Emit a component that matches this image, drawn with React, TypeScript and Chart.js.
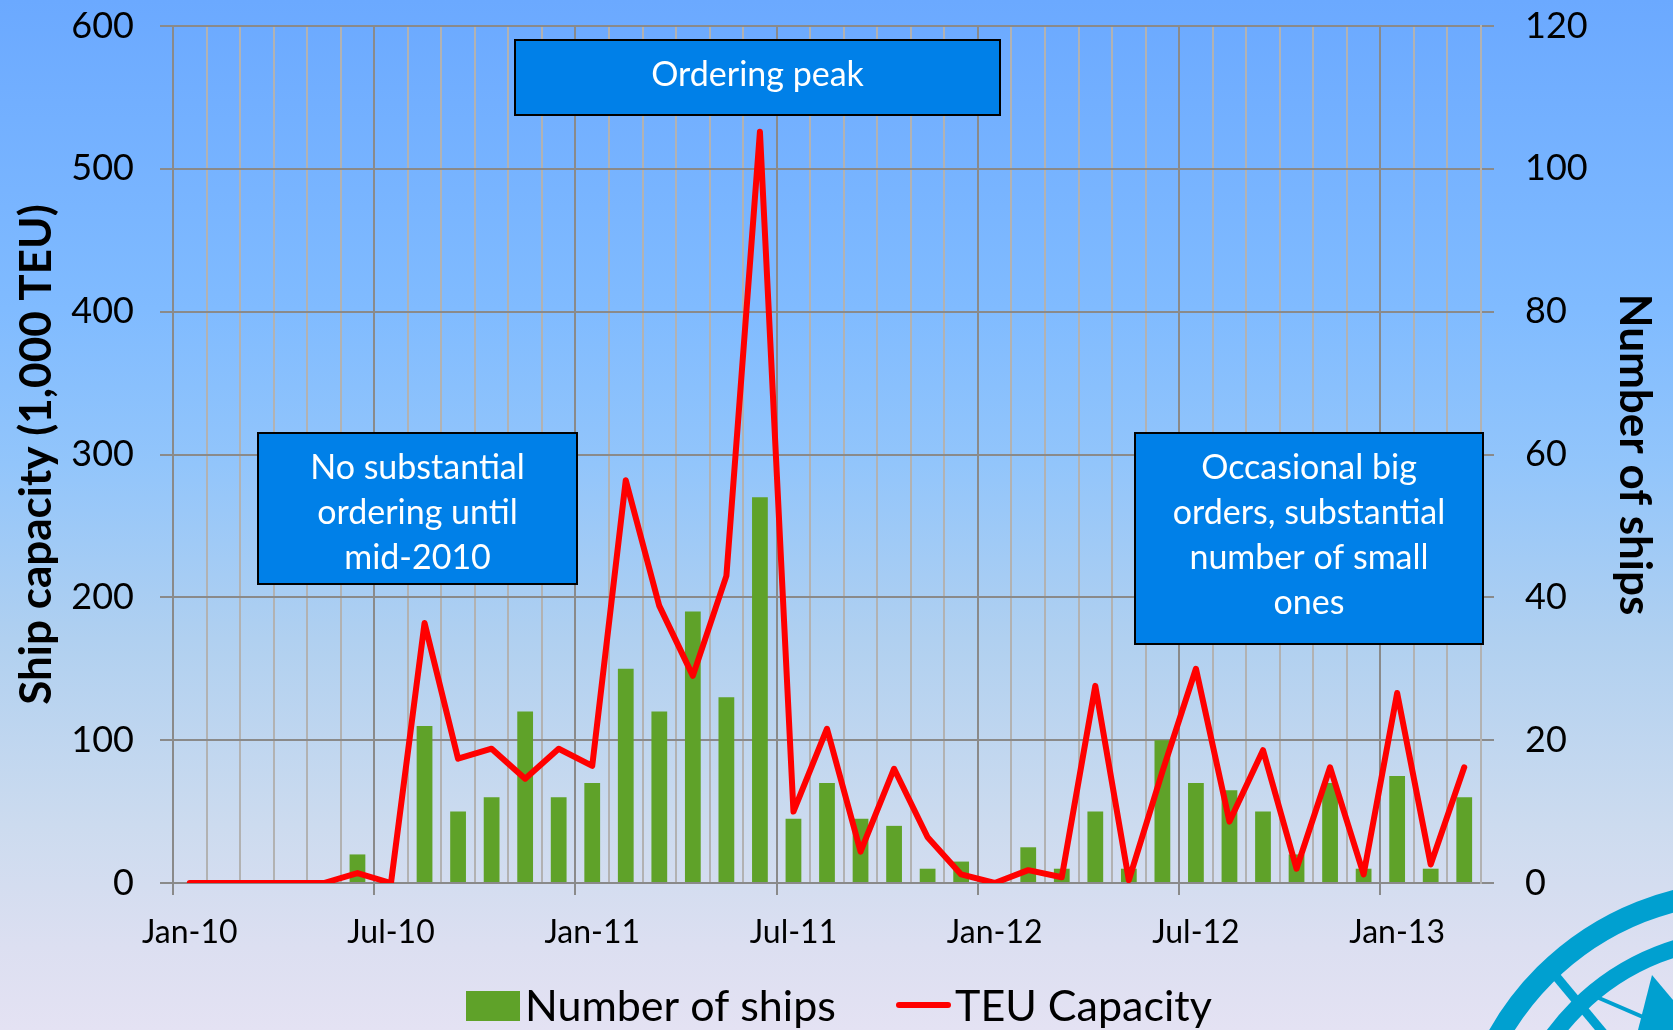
import React, { useEffect, useRef } from 'react';
import { Chart, registerables } from 'chart.js';

Chart.register(...registerables);

// ---------- data ----------
const months = [
  'Jan-10', 'Feb-10', 'Mar-10', 'Apr-10', 'May-10', 'Jun-10', 'Jul-10', 'Aug-10', 'Sep-10', 'Oct-10', 'Nov-10', 'Dec-10',
  'Jan-11', 'Feb-11', 'Mar-11', 'Apr-11', 'May-11', 'Jun-11', 'Jul-11', 'Aug-11', 'Sep-11', 'Oct-11', 'Nov-11', 'Dec-11',
  'Jan-12', 'Feb-12', 'Mar-12', 'Apr-12', 'May-12', 'Jun-12', 'Jul-12', 'Aug-12', 'Sep-12', 'Oct-12', 'Nov-12', 'Dec-12',
  'Jan-13', 'Feb-13', 'Mar-13',
];
const tickLabels = ['Jan-10', 'Jul-10', 'Jan-11', 'Jul-11', 'Jan-12', 'Jul-12', 'Jan-13'];

// Number of ships (right axis)
const shipCounts = [
  0, 0, 0, 0, 0, 4, 0, 22, 10, 12, 24, 12,
  14, 30, 24, 38, 26, 54, 9, 14, 9, 8, 2, 3,
  0, 5, 2, 10, 2, 20, 14, 13, 10, 4, 14, 2,
  15, 2, 12,
];
// TEU capacity, 1,000 TEU (left axis)
const teuCapacity = [
  0, 0, 0, 0, 0, 7, 0, 182, 87, 94, 73, 94,
  82, 282, 194, 145, 215, 526, 50, 108, 22, 80, 32, 6,
  0, 9, 4, 138, 2, 78, 150, 43, 93, 10, 81, 6,
  133, 13, 81,
];

const leftAxisTitle = 'Ship capacity (1,000 TEU)';
const rightAxisTitle = 'Number of ships';
const seriesNames = ['Number of ships', 'TEU Capacity'];

const noteTexts = [
  ['Ordering peak'],
  ['No substantial', 'ordering until', 'mid-2010'],
  ['Occasional big', 'orders, substantial', 'number of small', 'ones'],
];

// ---------- styles ----------
const W = 1673;
const H = 1030;
const FONT = "Lato, 'Open Sans', sans-serif";
const GREEN = '#5fa229';
const RED = '#ff0000';
const GRID_MAJOR = '#8a8a8a';
const GRID_MINOR = '#b2b2b2';
const BOX_FILL = '#0080e8';

const noteBoxes = [
  { x0: 515, y0: 40, x1: 1000, y1: 115 },
  { x0: 258, y0: 433, x1: 577, y1: 584 },
  { x0: 1135, y0: 433, x1: 1483, y1: 644 },
];

const notesPlugin = {
  id: 'notes',
  afterDatasetsDraw(chart: any) {
    const ctx = chart.ctx as CanvasRenderingContext2D;
    ctx.save();
    noteBoxes.forEach((b, i) => {
      ctx.fillStyle = BOX_FILL;
      ctx.fillRect(b.x0, b.y0, b.x1 - b.x0, b.y1 - b.y0);
      ctx.strokeStyle = '#000000';
      ctx.lineWidth = 2;
      ctx.strokeRect(b.x0, b.y0, b.x1 - b.x0, b.y1 - b.y0);
      const lines = noteTexts[i];
      const lh = 45;
      const cx = (b.x0 + b.x1) / 2;
      ctx.fillStyle = '#ffffff';
      ctx.font = `34px ${FONT}`;
      ctx.textAlign = 'center';
      ctx.textBaseline = 'middle';
      lines.forEach((t, k) => {
        ctx.fillText(t, cx, b.y0 + 35 + k * lh);
      });
    });
    ctx.restore();
  },
};

const legendPlugin = {
  id: 'customLegend',
  afterDraw(chart: any) {
    const ctx = chart.ctx as CanvasRenderingContext2D;
    ctx.save();
    const cy = 1005;
    ctx.font = `43px ${FONT}`;
    ctx.textBaseline = 'middle';
    ctx.textAlign = 'left';
    // bar item
    ctx.fillStyle = GREEN;
    ctx.fillRect(466, cy - 14, 54, 30);
    ctx.fillStyle = '#000000';
    ctx.fillText(chart.data.datasets[1].label, 525, cy + 2);
    // line item
    ctx.strokeStyle = RED;
    ctx.lineWidth = 6;
    ctx.lineCap = 'round';
    ctx.beginPath();
    ctx.moveTo(899, cy);
    ctx.lineTo(948, cy);
    ctx.stroke();
    ctx.fillStyle = '#000000';
    ctx.fillText(chart.data.datasets[0].label, 955, cy + 2);
    ctx.restore();
  },
};

const logoPlugin = {
  id: 'logo',
  afterDraw(chart: any) {
    const ctx = chart.ctx as CanvasRenderingContext2D;
    ctx.save();
    const c = '#00a0d0';
    ctx.strokeStyle = c;
    ctx.fillStyle = c;
    ctx.lineWidth = 22;
    ctx.beginPath();
    ctx.arc(1745, 1175, 283, 0, Math.PI * 2);
    ctx.stroke();
    ctx.lineWidth = 17;
    ctx.beginPath();
    ctx.arc(1745, 1175, 237, 0, Math.PI * 2);
    ctx.stroke();
    ctx.lineWidth = 9;
    ctx.beginPath();
    ctx.moveTo(1550, 969);
    ctx.lineTo(1605, 1035);
    ctx.stroke();
    ctx.lineWidth = 4;
    ctx.beginPath();
    ctx.moveTo(1592, 995);
    ctx.lineTo(1673, 1030);
    ctx.stroke();
    ctx.beginPath();
    ctx.moveTo(1652, 975);
    ctx.lineTo(1638, 1030);
    ctx.lineTo(1673, 1030);
    ctx.lineTo(1673, 1000);
    ctx.closePath();
    ctx.fill();
    ctx.restore();
  },
};

export default function App() {
  const ref = useRef<HTMLCanvasElement | null>(null);

  useEffect(() => {
    if (!ref.current) return;
    Chart.defaults.font.family = FONT;
    Chart.defaults.color = '#000000';
    const chart = new Chart(ref.current, {
      type: 'bar',
      data: {
        labels: months,
        datasets: [
          {
            type: 'line',
            label: seriesNames[1],
            data: teuCapacity,
            yAxisID: 'y',
            borderColor: RED,
            backgroundColor: RED,
            borderWidth: 6,
            pointRadius: 0,
            tension: 0,
            borderJoinStyle: 'round',
            borderCapStyle: 'round',
            order: 0,
          } as any,
          {
            type: 'bar',
            label: seriesNames[0],
            data: shipCounts,
            yAxisID: 'y1',
            backgroundColor: GREEN,
            borderWidth: 0,
            categoryPercentage: 1,
            barPercentage: 0.47,
            order: 1,
          } as any,
        ],
      },
      options: {
        animation: false,
        responsive: false,
        maintainAspectRatio: false,
        layout: { padding: { top: 0, left: 0, right: 0, bottom: 0 } },
        plugins: {
          legend: { display: false },
          tooltip: { enabled: false },
        },
        scales: {
          x: {
            type: 'category',
            offset: true,
            grid: {
              offset: true,
              color: (c: any) => (typeof c.index === 'number' && c.index % 6 === 0 ? GRID_MAJOR : GRID_MINOR),
              lineWidth: 2,
              drawTicks: true,
              tickLength: 12,
              tickColor: (c: any) => (typeof c.index === 'number' && c.index % 6 === 0 ? GRID_MAJOR : 'rgba(0,0,0,0)'),
              tickWidth: 2,
            },
            border: { display: true, color: GRID_MAJOR, width: 2 },
            ticks: {
              autoSkip: false,
              maxRotation: 0,
              minRotation: 0,
              padding: 18,
              font: { size: 32 },
              color: '#000000',
              callback: (_v: any, i: number) => (tickLabels.includes(months[i]) ? months[i] : ''),
            },
            afterFit: (s: any) => {
              s.height = 147;
            },
          },
          y: {
            position: 'left',
            min: 0,
            max: 600,
            ticks: { stepSize: 100, font: { size: 36 }, padding: 26, color: '#000000' },
            grid: { color: GRID_MAJOR, lineWidth: 2, drawTicks: true, tickLength: 13 },
            border: { display: true, color: GRID_MAJOR, width: 2 },
            title: {
              display: true,
              text: leftAxisTitle,
              font: { size: 44, weight: 'bold' },
              color: '#000000',
              padding: { top: 10, bottom: 0 },
            },
            afterFit: (s: any) => {
              s.width = 173;
              s.paddingTop = 26;
              s.paddingBottom = 0;
            },
          },
          y1: {
            position: 'right',
            min: 0,
            max: 120,
            ticks: { stepSize: 20, font: { size: 36 }, padding: 31, color: '#000000' },
            grid: { drawOnChartArea: false, color: GRID_MAJOR, lineWidth: 2, drawTicks: true, tickLength: 13 },
            border: { display: true, color: GRID_MINOR, width: 2 },
            title: {
              display: true,
              text: rightAxisTitle,
              font: { size: 44, weight: 'bold' },
              color: '#000000',
              padding: { top: 12, bottom: 0 },
            },
            afterFit: (s: any) => {
              s.width = 192;
              s.paddingTop = 26;
              s.paddingBottom = 0;
            },
          },
        },
      } as any,
      plugins: [notesPlugin, legendPlugin, logoPlugin],
    });
    return () => chart.destroy();
  }, []);

  return (
    <div
      style={{
        position: 'fixed',
        left: 0,
        top: 0,
        width: W,
        height: H,
        overflow: 'hidden',
        background:
          'linear-gradient(to bottom, #6ba9ff 0%, #80bbff 30%, #92c5fb 45%, #b0d0f0 62%, #ccdbef 80%, #dcdff1 92%, #e4e2f3 100%)',
      }}
    >
      <canvas ref={ref} width={W} height={H} style={{ display: 'block', width: W, height: H }} />
    </div>
  );
}
